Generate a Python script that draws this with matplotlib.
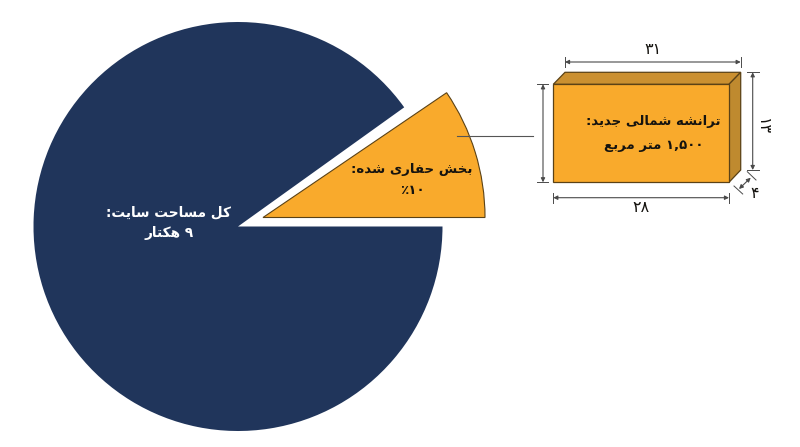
import re
import unicodedata
import matplotlib
matplotlib.use("Agg")
import matplotlib.pyplot as plt

# chart values
site_slices = [9.9, 90.1]      # gap, whole site
dug_slices = [9.5, 90.5]       # dug part, rest not drawn
site_lines = ["کل مساحت سایت:", "۹ هکتار"]
dug_lines = ["بخش حفاری شده:", "۱۰٪"]
trench_lines = ["ترانشه شمالی جدید:", "۱,۵۰۰ متر مربع"]
dim_top = "۳۱"
dim_bottom = "۲۸"
dim_right = "۱۳"
dim_depth = "۴"

NAVY = "#20355B"
ORANGE = "#F9AA2C"
TOP = "#CB9030"
SIDE = "#BF8A2F"
EDGE = "#5B4216"
DIM = "#4A4A4A"
INK = "#15130F"

# matplotlib does no arabic shaping, so build the presentation forms here
forms = {}
for cp in range(0xFB50, 0xFEFD):
    parts = unicodedata.decomposition(chr(cp)).split()
    if len(parts) == 2 and parts[0] in ("<isolated>", "<final>", "<initial>", "<medial>"):
        forms.setdefault(chr(int(parts[1], 16)), {})[parts[0]] = chr(cp)
NO_LEFT_JOIN = set("ادذرزژو")


def shape(text):
    out = []
    for i, ch in enumerate(text):
        if ch not in forms:
            out.append(ch)
            continue
        prev = text[i - 1] if i > 0 else " "
        nxt = text[i + 1] if i + 1 < len(text) else " "
        joins_prev = prev in forms and prev not in NO_LEFT_JOIN
        joins_next = nxt in forms and ch not in NO_LEFT_JOIN
        if joins_prev and joins_next:
            key = "<medial>"
        elif joins_prev:
            key = "<final>"
        elif joins_next:
            key = "<initial>"
        else:
            key = "<isolated>"
        out.append(forms[ch].get(key, ch))
    visual = "".join(out)[::-1]
    return re.sub("[۰-۹,]+", lambda m: m.group(0)[::-1], visual)


fig = plt.figure(figsize=(8, 4.47), dpi=100)
ax = fig.add_axes([0, 0, 1, 1])

# pies
w, _ = ax.pie(site_slices, colors=["none", NAVY], center=(238, 226.5), radius=204.5,
              startangle=0, counterclock=False, frame=True)
w, _ = ax.pie(dug_slices, colors=[ORANGE, "none"], center=(263, 217.5), radius=222,
              startangle=0, counterclock=False, frame=True,
              wedgeprops=dict(edgecolor=EDGE, linewidth=0.8))
w[1].set_visible(False)

# leader line
ax.plot([456.7, 532.5], [136.3, 136.3], color="#555555", lw=0.8)

# box
ax.fill([553.3, 565, 740.7, 729], [84.3, 72.3, 72.3, 84.3], facecolor=TOP, edgecolor=EDGE, lw=0.9)
ax.fill([729, 740.7, 740.7, 729], [84.3, 72.3, 170, 182.3], facecolor=SIDE, edgecolor=EDGE, lw=0.9)
ax.fill([553.3, 729, 729, 553.3], [84.3, 84.3, 182.3, 182.3], facecolor=ORANGE, edgecolor=EDGE, lw=0.9)


def dim_line(p0, p1, t0a, t0b, t1a, t1b):
    ax.annotate("", xy=p1, xytext=p0,
                arrowprops=dict(arrowstyle="<|-|>", color=DIM, lw=0.8, mutation_scale=6,
                                shrinkA=0, shrinkB=0))
    ax.plot([t0a[0], t0b[0]], [t0a[1], t0b[1]], color=DIM, lw=0.7)
    ax.plot([t1a[0], t1b[0]], [t1a[1], t1b[1]], color=DIM, lw=0.7)


dim_line((565, 62), (740.7, 62), (565, 56.5), (565, 67), (740.7, 56.5), (740.7, 67))
dim_line((553.3, 197.7), (729, 197.7), (553.3, 192.5), (553.3, 202.5), (729, 192.5), (729, 202.5))
dim_line((543, 84.3), (543, 182.3), (537.3, 84.3), (548, 84.3), (537.3, 182.3), (548, 182.3))
dim_line((752.7, 72.3), (752.7, 170), (746.5, 72.3), (759, 72.3), (746.5, 170), (759, 170))
dim_line((739, 189), (750.7, 177.7), (734, 186), (742.7, 194), (747.3, 171.7), (756, 180))


def label(x, y, text, color=INK, size=11, weight="bold", rotation=0):
    ax.text(x, y, shape(text), color=color, fontsize=size, fontweight=weight, rotation=rotation,
            ha="center", va="center", family="DejaVu Sans")


label(169, 212, site_lines[0], color="white", size=9.8)
label(169, 233, site_lines[1], color="white", size=9.8)
label(412, 170, dug_lines[0], size=9.6)
label(412, 191, dug_lines[1], size=9.6)
label(653.5, 121, trench_lines[0], size=9.5)
label(653.5, 145, trench_lines[1], size=9.5)
label(653, 50, dim_top, size=11.5, weight="normal")
label(641, 208, dim_bottom, size=11.5, weight="normal")
label(762, 127, dim_right, size=11.5, weight="normal", rotation=270)
label(755, 193, dim_depth, size=11.5, weight="normal")

ax.set_xlim(0, 800)
ax.set_ylim(447, 0)
ax.set_aspect("auto")
ax.axis("off")
fig.savefig("out.png", dpi=100, facecolor="white")
